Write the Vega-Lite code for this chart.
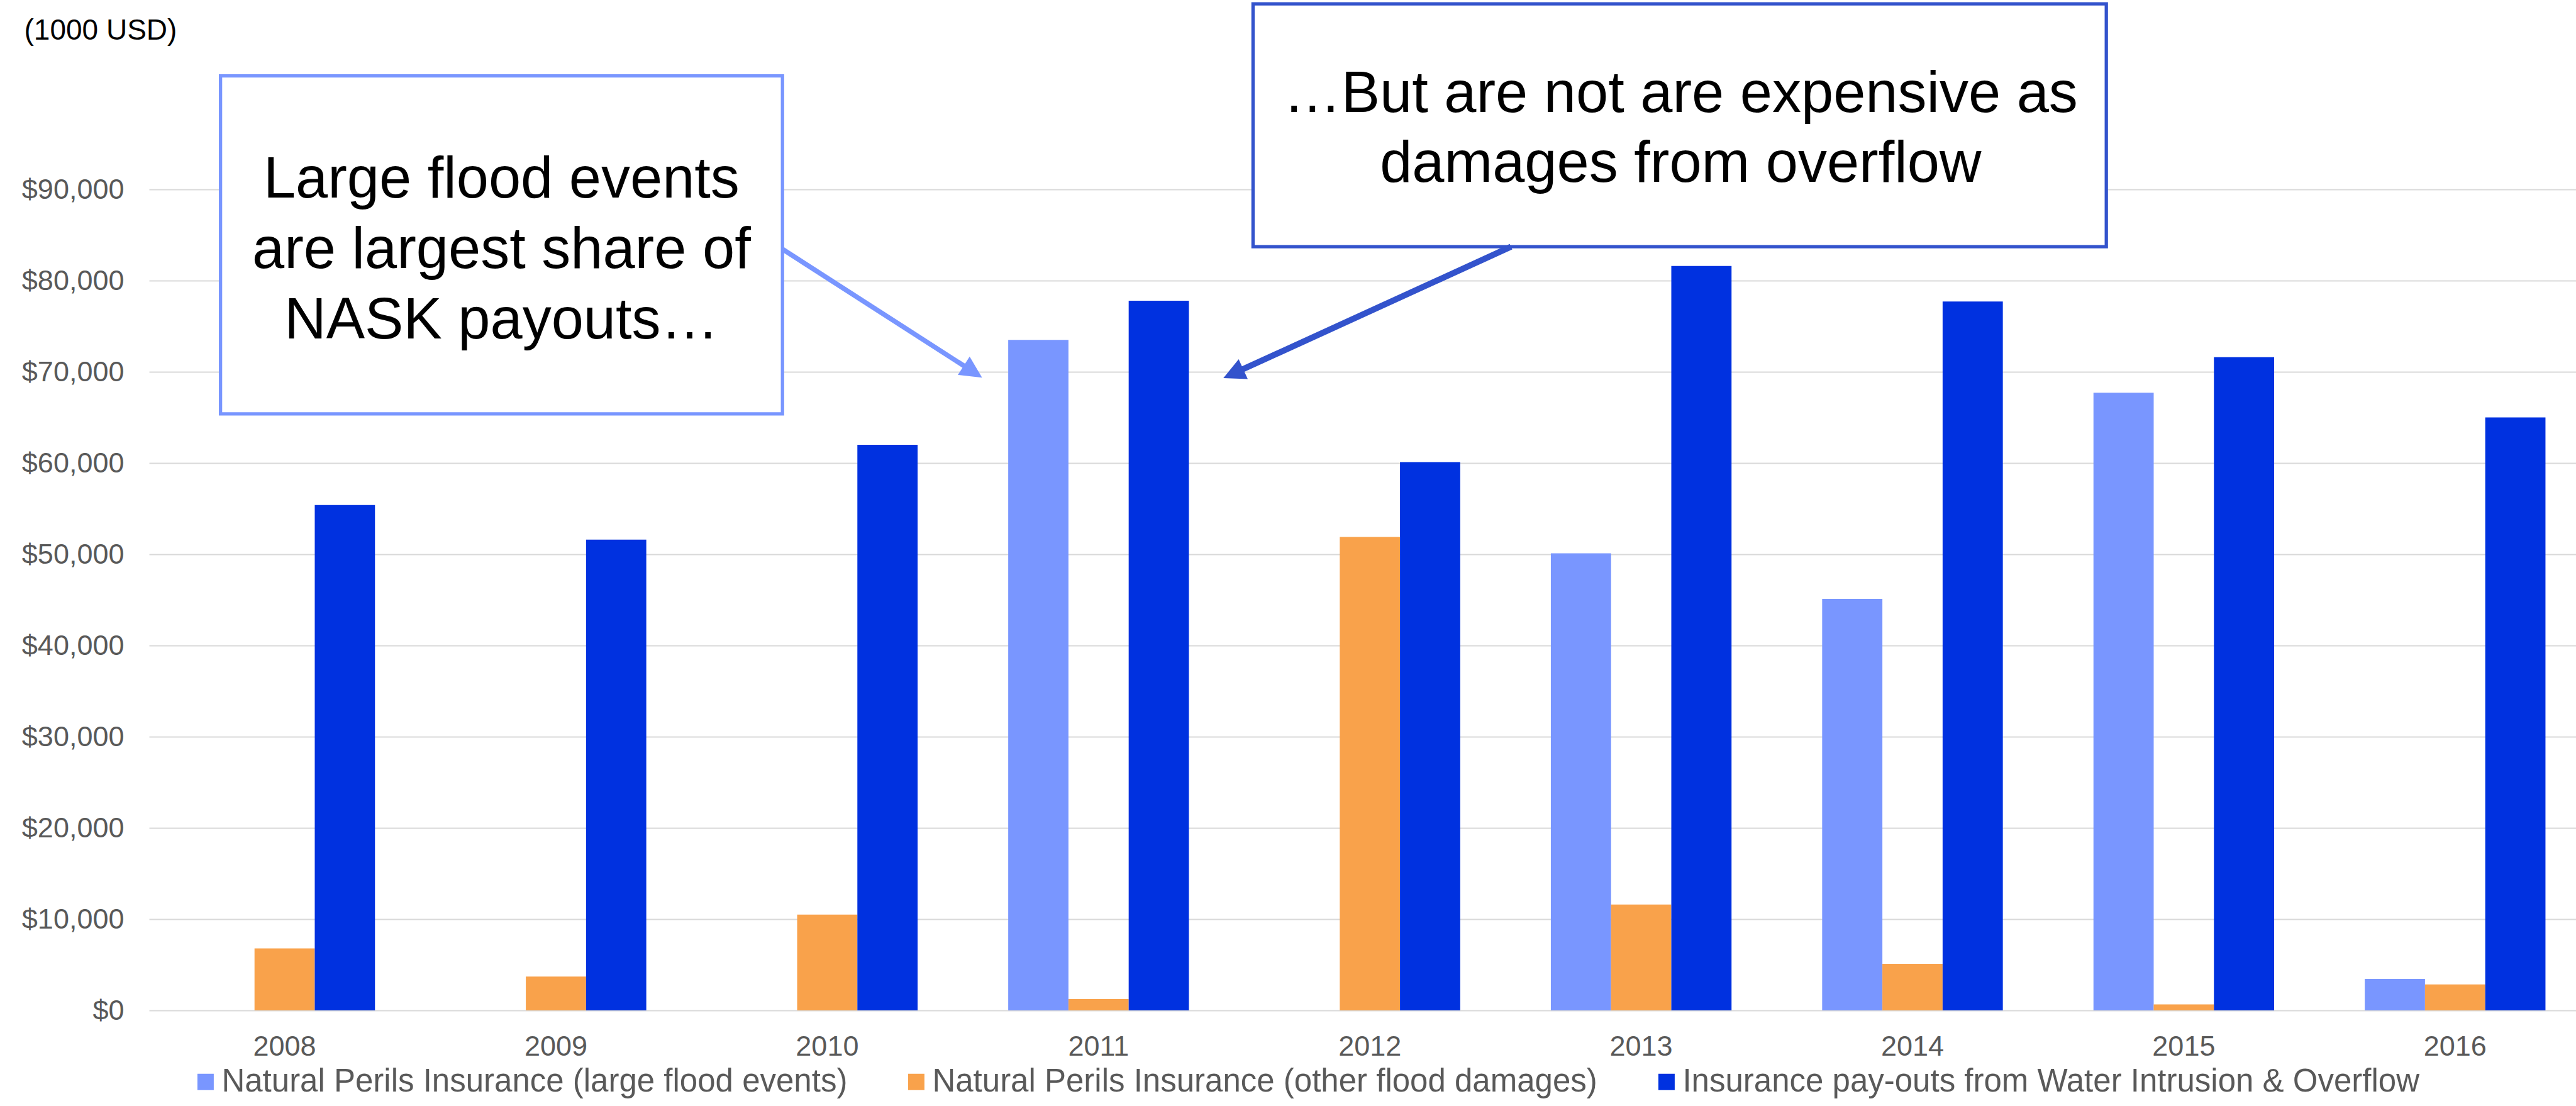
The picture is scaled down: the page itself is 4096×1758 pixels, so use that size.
{
  "$schema": "https://vega.github.io/schema/vega-lite/v6.json",
  "width": 3859,
  "height": 1305,
  "autosize": {"type": "none"},
  "padding": {"left": 237, "top": 301, "right": 0, "bottom": 152},
  "background": "#ffffff",
  "config": {"font": "Liberation Sans", "view": {"stroke": null}},
  "datasets": {
    "payouts": [
      {"year": "2008", "series": "Natural Perils Insurance (other flood damages)", "value": 6800},
      {"year": "2008", "series": "Insurance pay-outs from Water Intrusion & Overflow", "value": 55400},
      {"year": "2009", "series": "Natural Perils Insurance (other flood damages)", "value": 3700},
      {"year": "2009", "series": "Insurance pay-outs from Water Intrusion & Overflow", "value": 51600},
      {"year": "2010", "series": "Natural Perils Insurance (other flood damages)", "value": 10500},
      {"year": "2010", "series": "Insurance pay-outs from Water Intrusion & Overflow", "value": 62000},
      {"year": "2011", "series": "Natural Perils Insurance (large flood events)", "value": 73500},
      {"year": "2011", "series": "Natural Perils Insurance (other flood damages)", "value": 1250},
      {"year": "2011", "series": "Insurance pay-outs from Water Intrusion & Overflow", "value": 77800},
      {"year": "2012", "series": "Natural Perils Insurance (other flood damages)", "value": 51900},
      {"year": "2012", "series": "Insurance pay-outs from Water Intrusion & Overflow", "value": 60100},
      {"year": "2013", "series": "Natural Perils Insurance (large flood events)", "value": 50100},
      {"year": "2013", "series": "Natural Perils Insurance (other flood damages)", "value": 11600},
      {"year": "2013", "series": "Insurance pay-outs from Water Intrusion & Overflow", "value": 81600},
      {"year": "2014", "series": "Natural Perils Insurance (large flood events)", "value": 45100},
      {"year": "2014", "series": "Natural Perils Insurance (other flood damages)", "value": 5100},
      {"year": "2014", "series": "Insurance pay-outs from Water Intrusion & Overflow", "value": 77700},
      {"year": "2015", "series": "Natural Perils Insurance (large flood events)", "value": 67700},
      {"year": "2015", "series": "Natural Perils Insurance (other flood damages)", "value": 650},
      {"year": "2015", "series": "Insurance pay-outs from Water Intrusion & Overflow", "value": 71600},
      {"year": "2016", "series": "Natural Perils Insurance (large flood events)", "value": 3450},
      {"year": "2016", "series": "Natural Perils Insurance (other flood damages)", "value": 2850},
      {"year": "2016", "series": "Insurance pay-outs from Water Intrusion & Overflow", "value": 65000}
    ],
    "boxes": [
      {"note": "flood", "u": 2007.7634, "u2": 2009.8348, "v": 102437, "v2": 65385},
      {"note": "overflow", "u": 2011.5692, "u2": 2014.7143, "v": 110339, "v2": 83712}
    ],
    "shafts": [
      {"note": "flood", "u": 2009.8348, "v": 83446, "u2": 2010.5217, "v2": 70305},
      {"note": "overflow", "u": 2012.5201, "v": 83712, "u2": 2011.5125, "v2": 70020}
    ],
    "tips": [
      {"note": "flood", "u": 2010.5705, "v": 69369},
      {"note": "overflow", "u": 2011.4598, "v": 69303}
    ],
    "lines": [
      {"u": 2008.799, "v": 89090, "text": "Large flood events"},
      {"u": 2008.799, "v": 81400, "text": "are largest share of"},
      {"u": 2008.799, "v": 73685, "text": "NASK payouts…"},
      {"u": 2013.1451, "v": 98453, "text": "…But are not are expensive as"},
      {"u": 2013.1451, "v": 90817, "text": "damages from overflow"}
    ]
  },
  "layer": [
    {
      "data": {"name": "payouts"},
      "mark": {"type": "bar"},
      "encoding": {
        "x": {
          "field": "year", "type": "nominal",
          "scale": {"paddingInner": 0.334, "paddingOuter": 0.13965, "align": 0.597},
          "axis": {"title": null, "labelFontSize": 45, "labelColor": "#595959", "labelPadding": 71.5,
                   "labelBaseline": "alphabetic", "labelAngle": 0, "ticks": false, "tickSize": 0,
                   "domain": false, "grid": false}
        },
        "xOffset": {
          "field": "series", "type": "nominal",
          "sort": ["Natural Perils Insurance (large flood events)", "Natural Perils Insurance (other flood damages)", "Insurance pay-outs from Water Intrusion & Overflow"],
          "scale": {"domain": ["Natural Perils Insurance (large flood events)", "Natural Perils Insurance (other flood damages)", "Insurance pay-outs from Water Intrusion & Overflow"], "paddingInner": 0, "paddingOuter": 0}
        },
        "y": {
          "field": "value", "type": "quantitative",
          "scale": {"domain": [0, 90000], "nice": false},
          "axis": {"title": "(1000 USD)", "titleAngle": 0, "titleAlign": "left", "titleBaseline": "alphabetic",
                   "titleX": -199, "titleY": -238.4, "titleFontSize": 46, "titleFontWeight": "normal", "titleColor": "#000000",
                   "values": [0, 10000, 20000, 30000, 40000, 50000, 60000, 70000, 80000, 90000],
                   "format": "$,d", "labelFontSize": 45, "labelColor": "#595959", "labelPadding": 40,
                   "ticks": false, "tickSize": 0, "domain": false, "grid": true, "gridColor": "#d9d9d9", "gridWidth": 2}
        },
        "color": {
          "field": "series", "type": "nominal",
          "sort": ["Natural Perils Insurance (large flood events)", "Natural Perils Insurance (other flood damages)", "Insurance pay-outs from Water Intrusion & Overflow"],
          "scale": {"domain": ["Natural Perils Insurance (large flood events)", "Natural Perils Insurance (other flood damages)", "Insurance pay-outs from Water Intrusion & Overflow"],
                    "range": ["#7996ff", "#f9a24b", "#0031e0"]},
          "legend": {"title": null, "orient": "none", "legendX": 64.4, "legendY": 1393, "direction": "horizontal",
                     "symbolType": "square", "symbolSize": 676, "symbolStrokeWidth": 0, "labelFontSize": 51,
                     "labelColor": "#595959", "labelOffset": 0, "columnPadding": 84, "labelLimit": 3000}
        }
      }
    },
    {
      "layer": [
        {
          "data": {"name": "boxes"},
          "transform": [{"filter": "datum.note === 'flood'"}],
          "mark": {"type": "rect", "fill": "#ffffff", "stroke": "#7996ff", "strokeWidth": 5.3},
          "encoding": {
            "x": {"field": "u", "type": "quantitative", "scale": {"domain": [2007.5, 2016.4455], "nice": false, "zero": false}, "axis": null},
            "x2": {"field": "u2"},
            "y": {"field": "v", "type": "quantitative", "scale": {"domain": [0, 90000], "nice": false}, "axis": null},
            "y2": {"field": "v2"}
          }
        },
        {
          "data": {"name": "boxes"},
          "transform": [{"filter": "datum.note === 'overflow'"}],
          "mark": {"type": "rect", "fill": "#ffffff", "stroke": "#3353cc", "strokeWidth": 5.3},
          "encoding": {
            "x": {"field": "u", "type": "quantitative", "scale": {"domain": [2007.5, 2016.4455], "nice": false, "zero": false}, "axis": null},
            "x2": {"field": "u2"},
            "y": {"field": "v", "type": "quantitative", "scale": {"domain": [0, 90000], "nice": false}, "axis": null},
            "y2": {"field": "v2"}
          }
        },
        {
          "data": {"name": "lines"},
          "mark": {"type": "text", "align": "center", "baseline": "alphabetic", "fontSize": 92, "color": "#000000"},
          "encoding": {
            "x": {"field": "u", "type": "quantitative", "scale": {"domain": [2007.5, 2016.4455], "nice": false, "zero": false}, "axis": null},
            "y": {"field": "v", "type": "quantitative", "scale": {"domain": [0, 90000], "nice": false}, "axis": null},
            "text": {"field": "text"}
          }
        },
        {
          "data": {"name": "shafts"},
          "transform": [{"filter": "datum.note === 'flood'"}],
          "mark": {"type": "rule", "color": "#7996ff", "strokeWidth": 7.7, "strokeCap": "butt"},
          "encoding": {
            "x": {"field": "u", "type": "quantitative", "scale": {"domain": [2007.5, 2016.4455], "nice": false, "zero": false}, "axis": null},
            "x2": {"field": "u2"},
            "y": {"field": "v", "type": "quantitative", "scale": {"domain": [0, 90000], "nice": false}, "axis": null},
            "y2": {"field": "v2"}
          }
        },
        {
          "data": {"name": "shafts"},
          "transform": [{"filter": "datum.note === 'overflow'"}],
          "mark": {"type": "rule", "color": "#3353cc", "strokeWidth": 9.6, "strokeCap": "butt"},
          "encoding": {
            "x": {"field": "u", "type": "quantitative", "scale": {"domain": [2007.5, 2016.4455], "nice": false, "zero": false}, "axis": null},
            "x2": {"field": "u2"},
            "y": {"field": "v", "type": "quantitative", "scale": {"domain": [0, 90000], "nice": false}, "axis": null},
            "y2": {"field": "v2"}
          }
        },
        {
          "data": {"name": "tips"},
          "transform": [{"filter": "datum.note === 'flood'"}],
          "mark": {"type": "point", "shape": "M0,0L-0.5,1L0.5,1Z", "size": 4816, "angle": 122.75, "filled": true, "fill": "#7996ff", "opacity": 1, "strokeWidth": 0},
          "encoding": {
            "x": {"field": "u", "type": "quantitative", "scale": {"domain": [2007.5, 2016.4455], "nice": false, "zero": false}, "axis": null},
            "y": {"field": "v", "type": "quantitative", "scale": {"domain": [0, 90000], "nice": false}, "axis": null}
          }
        },
        {
          "data": {"name": "tips"},
          "transform": [{"filter": "datum.note === 'overflow'"}],
          "mark": {"type": "point", "shape": "M0,0L-0.5,1L0.5,1Z", "size": 4816, "angle": 245.45, "filled": true, "fill": "#3353cc", "opacity": 1, "strokeWidth": 0},
          "encoding": {
            "x": {"field": "u", "type": "quantitative", "scale": {"domain": [2007.5, 2016.4455], "nice": false, "zero": false}, "axis": null},
            "y": {"field": "v", "type": "quantitative", "scale": {"domain": [0, 90000], "nice": false}, "axis": null}
          }
        }
      ]
    }
  ],
  "resolve": {"scale": {"x": "independent"}, "axis": {"y": "independent"}}
}
